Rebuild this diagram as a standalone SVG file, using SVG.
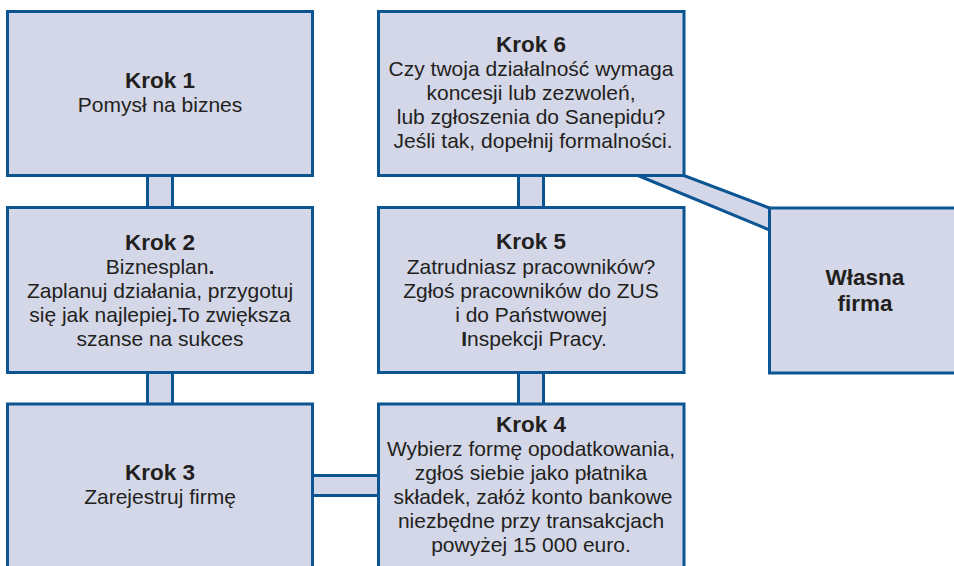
<svg xmlns="http://www.w3.org/2000/svg" width="954" height="566" viewBox="0 0 954 566">
<style>
.box{fill:#d3d7e7;stroke:#0b5593;stroke-width:3}
.con{fill:#d3d7e7;stroke:#0b5593;stroke-width:3;stroke-linejoin:miter}
text{font-family:"Liberation Sans",Arial,sans-serif;fill:#231f20;text-anchor:middle}
.t{font-size:22.5px;font-weight:bold}
.b{font-size:21px}
.bb{font-weight:bold}
</style>
<rect width="954" height="566" fill="#ffffff"/>
<g id="connectors">
<rect class="con" x="147.5" y="174" width="25" height="35"/>
<rect class="con" x="147.5" y="371" width="25" height="35"/>
<rect class="con" x="311" y="475.5" width="69" height="20"/>
<rect class="con" x="518.5" y="174" width="25" height="35"/>
<rect class="con" x="518.5" y="371" width="25" height="35"/>
<polygon class="con" points="638,175.5 684,175.5 769.5,208 769.5,230"/>
</g>
<g id="krok1">
<rect class="box" x="7.5" y="11.5" width="305" height="164"/>
<text x="160" y="88" class="t">Krok 1</text>
<text x="160" y="111.5" class="b">Pomysł na biznes</text>
</g>
<g id="krok2">
<rect class="box" x="7.5" y="207.5" width="305" height="165"/>
<text x="160" y="250" class="t">Krok 2</text>
<text class="b"><tspan x="160" y="274">Biznesplan<tspan class="bb">.</tspan></tspan><tspan x="160" y="298">Zaplanuj działania, przygotuj</tspan><tspan x="160" y="322">się jak najlepiej<tspan class="bb">.</tspan>To zwiększa</tspan><tspan x="160" y="346">szanse na sukces</tspan></text>
</g>
<g id="krok3">
<rect class="box" x="7.5" y="404" width="305" height="200"/>
<text x="160" y="479.5" class="t">Krok 3</text>
<text x="160" y="504" class="b">Zarejestruj firmę</text>
</g>
<g id="krok4">
<rect class="box" x="378.5" y="404" width="305.5" height="200"/>
<text x="531" y="431.5" class="t">Krok 4</text>
<text class="b"><tspan x="531" y="456">Wybierz formę opodatkowania,</tspan><tspan x="531" y="480">zgłoś siebie jako płatnika</tspan><tspan x="533" y="504">składek, załóż konto bankowe</tspan><tspan x="531" y="528">niezbędne przy transakcjach</tspan><tspan x="531" y="552">powyżej 15 000 euro.</tspan></text>
</g>
<g id="krok5">
<rect class="box" x="378.5" y="207.5" width="305.5" height="165"/>
<text x="531" y="248.5" class="t">Krok 5</text>
<text class="b"><tspan x="531" y="274">Zatrudniasz pracowników?</tspan><tspan x="531" y="298">Zgłoś pracowników do ZUS</tspan><tspan x="531" y="322">i do Państwowej</tspan><tspan x="534" y="345.5"><tspan class="bb">I</tspan>nspekcji Pracy.</tspan></text>
</g>
<g id="krok6">
<rect class="box" x="378.5" y="11.5" width="305.5" height="164"/>
<text x="531" y="52" class="t">Krok 6</text>
<text class="b"><tspan x="531" y="76">Czy twoja działalność wymaga</tspan><tspan x="531" y="100">koncesji lub zezwoleń,</tspan><tspan x="531" y="123.5">lub zgłoszenia do Sanepidu?</tspan><tspan x="533" y="147.5">Jeśli tak, dopełnij formalności.</tspan></text>
</g>
<g id="wlasna-firma">
<rect class="box" x="769.5" y="208" width="200" height="165"/>
<text x="865" y="285" class="t">Własna</text>
<text x="865" y="311" class="t">firma</text>
</g>
</svg>
